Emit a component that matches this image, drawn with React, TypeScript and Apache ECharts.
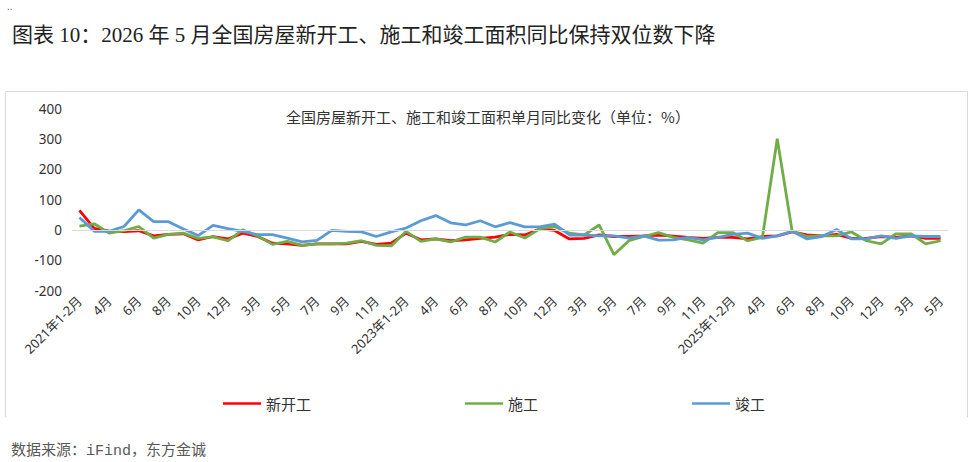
import React, { useEffect, useRef } from "react";
import * as echarts from "echarts";

const categories = [
  "2021年1-2月", "3月", "4月", "5月", "6月", "7月", "8月", "9月", "10月", "11月", "12月",
  "2022年1-2月", "3月", "4月", "5月", "6月", "7月", "8月", "9月", "10月", "11月", "12月",
  "2023年1-2月", "3月", "4月", "5月", "6月", "7月", "8月", "9月", "10月", "11月", "12月",
  "2024年1-2月", "3月", "4月", "5月", "6月", "7月", "8月", "9月", "10月", "11月", "12月",
  "2025年1-2月", "3月", "4月", "5月", "6月", "7月", "8月", "9月", "10月", "11月", "12月",
  "2026年1-2月", "3月", "4月", "5月",
];

const newStart = [
  64, 5, -4, -6, -3, -20, -15, -13, -33, -22, -30,
  -11, -22, -44, -46, -51, -46, -46, -46, -38, -48, -44,
  -11, -33, -30, -36, -33, -28, -24, -15, -17, 3, -2,
  -30, -28, -17, -22, -22, -20, -17, -21, -25, -28, -25,
  -25, -30, -22, -20, -7, -17, -20, -15, -28, -28, -22,
  -25, -20, -28, -28,
];

const construction = [
  12, 20, -11, -3, 11, -27, -15, -11, -28, -23, -36,
  0, -20, -48, -38, -51, -46, -46, -44, -36, -51, -53,
  -5, -38, -30, -40, -24, -24, -40, -7, -27, 3, 11,
  -11, -17, 16, -82, -36, -22, -9, -25, -33, -44, -9,
  -9, -36, -25, 300, -4, -22, -20, -20, -7, -36, -46,
  -13, -13, -46, -36,
];

const completion = [
  41, -5, -5, 11, 66, 27, 27, 3, -19, 15, 4,
  -5, -16, -16, -27, -40, -35, -2, -5, -7, -22, -7,
  6, 30, 47, 23, 16, 30, 10, 24, 10, 10, 19,
  -17, -17, -20, -20, -27, -20, -34, -33, -25, -33, -25,
  -15, -11, -28, -20, -5, -30, -22, 1, -30, -30, -20,
  -28, -20, -22, -22,
];

const yTicks = [-200, -100, 0, 100, 200, 300, 400];

export default function App() {
  const ref = useRef<HTMLDivElement>(null);
  useEffect(() => {
    if (!ref.current) return;
    const chart = echarts.init(ref.current, undefined, { renderer: "svg" });
    const lineSeries = (name: string, data: number[], color: string, extra: any = {}) => ({
      name,
      type: "line",
      data,
      symbol: "none",
      lineStyle: { color, width: 2.8 },
      itemStyle: { color },
      ...extra,
    });
    chart.setOption({
      animation: false,
      backgroundColor: "#ffffff",
      title: [
        {
          text: "图表 10：2026 年 5 月全国房屋新开工、施工和竣工面积同比保持双位数下降",
          left: 7,
          top: 19,
          textStyle: {
            fontFamily: "'Liberation Serif', 'Noto Sans CJK SC'",
            fontSize: 21,
            fontWeight: "normal",
            color: "#222222",
          },
        },
        {
          text: "全国房屋新开工、施工和竣工面积单月同比变化（单位：%）",
          left: 483,
          textAlign: "center",
          top: 104,
          textStyle: {
            fontFamily: "'Noto Sans CJK SC'",
            fontSize: 15,
            fontWeight: "normal",
            color: "#333333",
          },
        },
        {
          text: "数据来源：iFind，东方金诚",
          left: 6,
          top: 439,
          textStyle: {
            fontFamily: "'Liberation Mono', 'Noto Sans CJK SC'",
            fontSize: 15,
            fontWeight: "normal",
            color: "#595959",
          },
        },
      ],
      graphic: [
        {
          type: "text",
          left: 7,
          top: 1,
          style: { text: "..", fontSize: 10, fill: "#555" },
        },
        {
          type: "polyline",
          shape: { points: [[5.5, 417], [5.5, 91.5], [967.5, 91.5], [967.5, 417]] },
          style: { stroke: "#d9d9d9", fill: "none", lineWidth: 1 },
          silent: true,
        },
      ],
      legend: {
        left: 218,
        top: 391,
        itemWidth: 38,
        itemHeight: 14,
        itemGap: 154,
        icon: "path://M0,6 L38,6 L38,8.6 L0,8.6 Z",
        textStyle: { fontFamily: "'Noto Sans CJK SC'", fontSize: 15, color: "#333333" },
        data: ["新开工", "施工", "竣工"],
      },
      grid: { left: 72, right: 26, top: 108.5, bottom: 171.5, containLabel: false },
      xAxis: {
        type: "category",
        data: categories,
        boundaryGap: true,
        axisLine: { show: false, onZero: false },
        axisTick: { show: false },
        axisLabel: {
          rotate: 45,
          interval: 1,
          margin: 8,
          fontSize: 13,
          color: "#333333",
          fontFamily: "'Noto Sans', 'Noto Sans CJK SC'",
        },
        splitLine: { show: false },
      },
      yAxis: {
        type: "value",
        min: yTicks[0],
        max: yTicks[yTicks.length - 1],
        interval: 100,
        axisLine: { show: false },
        axisTick: { show: false },
        splitLine: { show: false },
        axisLabel: {
          margin: 10,
          fontSize: 13.5,
          color: "#333333",
          fontFamily: "'Noto Sans', 'Liberation Sans'",
        },
      },
      series: [
        lineSeries("新开工", newStart, "#ff0000", {
          markLine: {
            silent: true,
            symbol: "none",
            label: { show: false },
            lineStyle: { color: "#d9d9d9", width: 1.2, type: "solid" },
            data: [{ yAxis: 0 }],
          },
          z: 1,
        }),
        lineSeries("施工", construction, "#70ad47", { z: 2 }),
        lineSeries("竣工", completion, "#5b9bd5", { z: 3 }),
      ],
    });
    return () => chart.dispose();
  }, []);
  return (
    <div
      ref={ref}
      style={{ position: "fixed", left: 0, top: 0, width: 974, height: 462, background: "#fff" }}
    />
  );
}
